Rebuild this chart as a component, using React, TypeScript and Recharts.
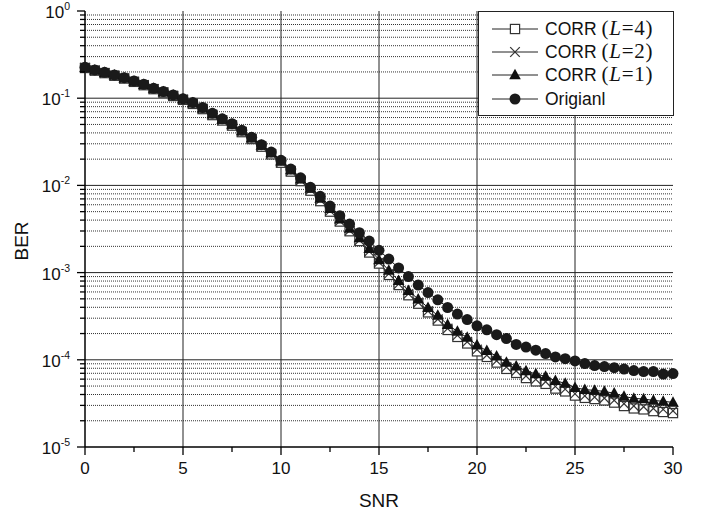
import React from 'react';
import { LineChart, Line, XAxis, YAxis, CartesianGrid, Legend } from 'recharts';

const snr = [
  0, 0.5, 1, 1.5, 2, 2.5, 3, 3.5, 4, 4.5,
  5, 5.5, 6, 6.5, 7, 7.5, 8, 8.5, 9, 9.5,
  10, 10.5, 11, 11.5, 12, 12.5, 13, 13.5, 14, 14.5,
  15, 15.5, 16, 16.5, 17, 17.5, 18, 18.5, 19, 19.5,
  20, 20.5, 21, 21.5, 22, 22.5, 23, 23.5, 24, 24.5,
  25, 25.5, 26, 26.5, 27, 27.5, 28, 28.5, 29, 29.5,
  30,
];

const berOriginal = [
  0.226, 0.211, 0.198, 0.185, 0.172, 0.158, 0.1445, 0.13, 0.119, 0.109,
  0.0984, 0.089, 0.078, 0.067, 0.058, 0.051, 0.0428, 0.0356, 0.0293, 0.0241,
  0.0194, 0.0154, 0.0122, 0.0095, 0.0075, 0.0058, 0.0045, 0.0036, 0.00287, 0.0023,
  0.0018, 0.00143, 0.00113, 0.0009, 0.00072, 0.00059, 0.000488, 0.000398, 0.000335, 0.000289,
  0.000245, 0.000221, 0.000194, 0.000175, 0.00015, 0.00014, 0.000129, 0.000118, 0.000108, 0.000103,
  0.0000971, 0.0000906, 0.0000859, 0.0000836, 0.0000813, 0.0000783, 0.0000753, 0.0000733, 0.0000733, 0.0000687,
  0.0000695,
];

const berL1 = [
  0.224, 0.209, 0.196, 0.183, 0.17, 0.156, 0.143, 0.129, 0.118, 0.108,
  0.0975, 0.088, 0.077, 0.066, 0.057, 0.05, 0.042, 0.035, 0.0288, 0.0236,
  0.0189, 0.015, 0.0118, 0.0092, 0.0071, 0.0054, 0.0041, 0.0032, 0.0025, 0.00188,
  0.0014, 0.00106, 0.00081, 0.00062, 0.000497, 0.000397, 0.000322, 0.000252, 0.000212, 0.00018,
  0.000147, 0.000127, 0.00011, 0.0000935, 0.0000847, 0.0000745, 0.0000687, 0.0000646, 0.0000575, 0.0000537,
  0.000048, 0.0000455, 0.0000446, 0.0000434, 0.0000413, 0.000038, 0.0000361, 0.0000355, 0.0000342, 0.0000334,
  0.0000325,
];

const berL2 = [
  0.223, 0.208, 0.195, 0.182, 0.169, 0.155, 0.142, 0.128, 0.117, 0.107,
  0.0965, 0.087, 0.076, 0.065, 0.056, 0.049, 0.0412, 0.0343, 0.0281, 0.023,
  0.0184, 0.0146, 0.0114, 0.0089, 0.0068, 0.0051, 0.0039, 0.00303, 0.00235, 0.00175,
  0.00131, 0.00097, 0.00074, 0.00057, 0.000455, 0.000362, 0.000292, 0.000228, 0.000191, 0.000161,
  0.000131, 0.000113, 0.0000975, 0.0000825, 0.0000745, 0.0000652, 0.0000598, 0.0000561, 0.0000496, 0.0000461,
  0.0000408, 0.0000386, 0.0000374, 0.0000363, 0.0000343, 0.0000314, 0.0000296, 0.000029, 0.0000277, 0.000027,
  0.000026,
];

const berL4 = [
  0.222, 0.207, 0.194, 0.181, 0.168, 0.154, 0.141, 0.127, 0.116, 0.106,
  0.0958, 0.086, 0.075, 0.064, 0.0555, 0.0485, 0.0408, 0.034, 0.0278, 0.0227,
  0.0182, 0.0144, 0.0112, 0.0087, 0.0066, 0.005, 0.00385, 0.00298, 0.0023, 0.0017,
  0.00127, 0.00094, 0.00072, 0.00055, 0.00044, 0.00035, 0.000282, 0.00022, 0.000183, 0.000154,
  0.000125, 0.000108, 0.000093, 0.0000787, 0.0000708, 0.0000618, 0.0000566, 0.000053, 0.0000468, 0.0000434,
  0.0000389, 0.0000366, 0.0000355, 0.0000342, 0.0000323, 0.0000295, 0.0000277, 0.000027, 0.0000258, 0.0000252,
  0.0000245,
];

const xTicks = [0, 2.5, 5, 7.5, 10, 12.5, 15, 17.5, 20, 22.5, 25, 27.5, 30];
const xMajorTicks = [0, 5, 10, 15, 20, 25, 30];
const xGridValues = [5, 10, 15, 20, 25];

const yMajorTicks = [1e-5, 1e-4, 1e-3, 1e-2, 1e-1, 1];
const yMajorExponents = ['-5', '-4', '-3', '-2', '-1', '0'];
const yMinorTicks = [
  2e-5, 3e-5, 4e-5, 5e-5, 6e-5, 7e-5, 8e-5, 9e-5,
  2e-4, 3e-4, 4e-4, 5e-4, 6e-4, 7e-4, 8e-4, 9e-4,
  2e-3, 3e-3, 4e-3, 5e-3, 6e-3, 7e-3, 8e-3, 9e-3,
  2e-2, 3e-2, 4e-2, 5e-2, 6e-2, 7e-2, 8e-2, 9e-2,
  2e-1, 3e-1, 4e-1, 5e-1, 6e-1, 7e-1, 8e-1, 9e-1,
];
const yAllTicks = [...yMajorTicks, ...yMinorTicks].sort((a, b) => a - b);
const yGridValues = [1e-4, 1e-3, 1e-2, 1e-1];

const seriesNames = ['CORR (L=4)', 'CORR (L=2)', 'CORR (L=1)', 'Origianl'];
const legendParams = ['4', '2', '1', ''];

const data = snr.map((s, i) => ({
  snr: s,
  l4: berL4[i],
  l2: berL2[i],
  l1: berL1[i],
  orig: berOriginal[i],
}));

const SANS = '"Liberation Sans", Arial, sans-serif';
const SERIF = '"Liberation Serif", "Times New Roman", serif';

const Y_TICK_SIZE = 5;
const Y_TICK_MARGIN = 10;
const X_TICK_SIZE = 5;
const X_TICK_MARGIN = 11;

const YTick = (props: any) => {
  const { x, y, payload } = props;
  const v = payload.value as number;
  const axisX = x + Y_TICK_SIZE + Y_TICK_MARGIN;
  const idx = yMajorTicks.findIndex((t) => Math.abs(t - v) / t < 1e-6);
  const major = idx >= 0;
  return (
    <g>
      <line x1={axisX - (major ? 8 : 5)} x2={axisX} y1={y} y2={y} stroke="#000" strokeWidth={1.3} />
      {major && (
        <text x={x} y={y} dy={7} textAnchor="end" fontFamily={SANS} fontSize={17} fill="#111">
          10
          <tspan dy={-8} fontSize={10.5}>
            {yMajorExponents[idx]}
          </tspan>
        </text>
      )}
    </g>
  );
};

const XTick = (props: any) => {
  const { x, y, payload } = props;
  const v = payload.value as number;
  const axisY = y - X_TICK_SIZE - X_TICK_MARGIN;
  const major = xMajorTicks.includes(v);
  return (
    <g>
      <line x1={x} x2={x} y1={axisY} y2={axisY + (major ? 8 : 5)} stroke="#000" strokeWidth={1.3} />
      {major && (
        <text x={x} y={y} dy={11} textAnchor="middle" fontFamily={SANS} fontSize={17} fill="#111">
          {v}
        </text>
      )}
    </g>
  );
};

const SquareDot = (p: any) => {
  if (p.cx == null || p.cy == null) return <g key={p.key} />;
  return <rect key={p.key} x={p.cx - 4.6} y={p.cy - 4.6} width={9.2} height={9.2} fill="#fff" stroke="#333" strokeWidth={1.2} />;
};
const CrossDot = (p: any) => {
  if (p.cx == null || p.cy == null) return <g key={p.key} />;
  const r = 4.8;
  return (
    <g key={p.key} stroke="#333" strokeWidth={1.2}>
      <line x1={p.cx - r} y1={p.cy - r} x2={p.cx + r} y2={p.cy + r} />
      <line x1={p.cx - r} y1={p.cy + r} x2={p.cx + r} y2={p.cy - r} />
    </g>
  );
};
const TriangleDot = (p: any) => {
  if (p.cx == null || p.cy == null) return <g key={p.key} />;
  const { cx, cy } = p;
  return <polygon key={p.key} points={`${cx},${cy - 6.2} ${cx - 5.8},${cy + 4.3} ${cx + 5.8},${cy + 4.3}`} fill="#111" />;
};
const CircleDot = (p: any) => {
  if (p.cx == null || p.cy == null) return <g key={p.key} />;
  return <circle key={p.key} cx={p.cx} cy={p.cy} r={5.5} fill="#1a1a1a" />;
};

const legendMarkers = [SquareDot, CrossDot, TriangleDot, CircleDot];

const LegendBox = () => {
  const rows = [18, 41, 64, 88];
  return (
    <svg width={197} height={106} style={{ display: 'block' }}>
      <rect x={0.5} y={0.5} width={195} height={104} fill="#fff" stroke="#222" strokeWidth={1} />
      {seriesNames.map((name, i) => {
        const M = legendMarkers[i];
        const cy = rows[i];
        const param = legendParams[i];
        return (
          <g key={name}>
            <line x1={14} x2={60} y1={cy} y2={cy} stroke="#222" strokeWidth={1} />
            {M({ cx: 37, cy, key: 'm' + i })}
            {param ? (
              <text x={67} y={cy + 6} fill="#111">
                <tspan fontFamily={SANS} fontSize={17.5}>CORR </tspan>
                <tspan fontFamily={SERIF} fontSize={21} letterSpacing={0.8}>(</tspan>
                <tspan fontFamily={SERIF} fontSize={21} fontStyle="italic" letterSpacing={0.8}>L</tspan>
                <tspan fontFamily={SERIF} fontSize={21} letterSpacing={0.8}>{'=' + param + ')'}</tspan>
              </text>
            ) : (
              <text x={67} y={cy + 6} fill="#111" fontFamily={SANS} fontSize={17.5}>
                {name}
              </text>
            )}
          </g>
        );
      })}
    </svg>
  );
};

const YTitle = (props: any) => {
  const vb = props.viewBox || { x: 10, y: 11, width: 75, height: 436 };
  const x = vb.x + 11;
  const y = vb.y + vb.height / 2 + 12;
  return (
    <text x={x} y={y} transform={`rotate(-90, ${x}, ${y})`} textAnchor="middle" dominantBaseline="central" fontFamily={SANS} fontSize={19} fill="#111">
      BER
    </text>
  );
};

const XTitle = (props: any) => {
  const vb = props.viewBox || { x: 85, y: 447, width: 588, height: 40 };
  const x = vb.x + vb.width / 2;
  const y = vb.y + 53;
  return (
    <text x={x} y={y} textAnchor="middle" dominantBaseline="central" fontFamily={SANS} fontSize={19} fill="#111">
      SNR
    </text>
  );
};

export default function App() {
  return (
    <div style={{ position: 'absolute', left: 0, top: 0, background: '#fff' }}>
      <LineChart width={709} height={516} data={data} margin={{ top: 11, right: 36, bottom: 29, left: 10 }}>
        <CartesianGrid
          horizontal
          vertical={false}
          horizontalValues={yMinorTicks}
          stroke="#333"
          strokeDasharray="1 1"
          strokeWidth={1}
        />
        <CartesianGrid
          horizontal
          vertical
          horizontalValues={yGridValues}
          verticalValues={xGridValues}
          stroke="#222"
          strokeWidth={1}
        />
        <XAxis
          dataKey="snr"
          type="number"
          domain={[0, 30]}
          ticks={xTicks}
          interval={0}
          height={40}
          tickSize={X_TICK_SIZE}
          tickMargin={X_TICK_MARGIN}
          tickLine={false}
          tick={<XTick />}
          axisLine={{ stroke: '#000', strokeWidth: 1.5 }}
          label={{ content: XTitle }}
        />
        <YAxis
          type="number"
          scale="log"
          domain={[1e-5, 1]}
          allowDataOverflow
          ticks={yAllTicks}
          interval={0}
          width={75}
          tickSize={Y_TICK_SIZE}
          tickMargin={Y_TICK_MARGIN}
          tickLine={false}
          tick={<YTick />}
          axisLine={{ stroke: '#000', strokeWidth: 1.5 }}
          label={{ content: YTitle }}
        />
        <Legend
          layout="vertical"
          align="center"
          verticalAlign="middle"
          wrapperStyle={{ left: 478, top: 11, width: 197, height: 106 }}
          content={() => <LegendBox />}
        />
        <Line dataKey="l4" name={seriesNames[0]} stroke="#222" strokeWidth={1} dot={SquareDot} activeDot={false} isAnimationActive={false} />
        <Line dataKey="l2" name={seriesNames[1]} stroke="#222" strokeWidth={1} dot={CrossDot} activeDot={false} isAnimationActive={false} />
        <Line dataKey="l1" name={seriesNames[2]} stroke="#111" strokeWidth={1} dot={TriangleDot} activeDot={false} isAnimationActive={false} />
        <Line dataKey="orig" name={seriesNames[3]} stroke="#111" strokeWidth={1} dot={CircleDot} activeDot={false} isAnimationActive={false} />
      </LineChart>
    </div>
  );
}
